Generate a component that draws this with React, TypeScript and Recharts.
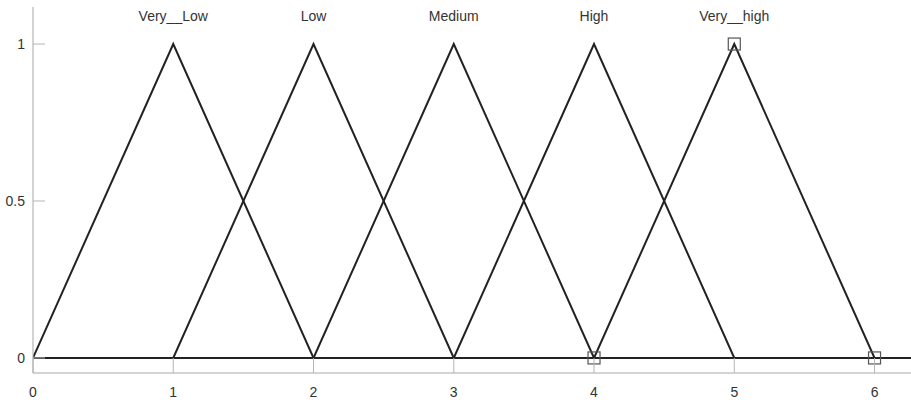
import { LineChart, Line, XAxis, YAxis, Scatter, ReferenceDot } from 'recharts';

// universe of discourse [0, xMax]
const xMax = 6.26;
const yDomain: [number, number] = [-0.048, 1.118];

const xTicks = [0, 1, 2, 3, 4, 5, 6];
const yTicks = [0, 0.5, 1];

// membership functions: name + triangle vertices [a, b, c]
const mfNames = ['Very__Low', 'Low', 'Medium', 'High', 'Very__high'];
const mfParams = [
  [0, 1, 2],
  [1, 2, 3],
  [2, 3, 4],
  [3, 4, 5],
  [4, 5, 6],
];

// selected MF (Very__high) vertex handles
const handles = [
  { x: 4, y: 0 },
  { x: 5, y: 1 },
  { x: 6, y: 0 },
];

const labelY = 1.09;

const buildSeries = ([a, b, c]: number[]) => {
  const pts = [] as { x: number; y: number }[];
  if (a > 0) pts.push({ x: 0, y: 0 });
  pts.push({ x: a, y: 0 }, { x: b, y: 1 }, { x: c, y: 0 });
  if (c < xMax) pts.push({ x: xMax, y: 0 });
  return pts;
};

const series = mfParams.map(buildSeries);

const FONT = 'Liberation Sans, Arial, sans-serif';

const YTick = ({ x, y, payload }: any) => (
  <g>
    <line x1={x} y1={y} x2={x + 12} y2={y} stroke="#b5b5b5" strokeWidth={1} />
    <text x={x - 8} y={y} textAnchor="end" dominantBaseline="central" fontSize={14} fill="#333" fontFamily={FONT}>
      {payload.value}
    </text>
  </g>
);

const XTick = ({ x, y, payload }: any) => (
  <g>
    <line x1={x} y1={y} x2={x} y2={y - 15} stroke="#b5b5b5" strokeWidth={1} />
    <text x={x} y={y + 19} textAnchor="middle" dominantBaseline="central" fontSize={14} fill="#333" fontFamily={FONT}>
      {payload.value}
    </text>
  </g>
);

const Handle = ({ cx, cy }: any) => (
  <rect x={cx - 6} y={cy - 6} width={12} height={12} fill="none" stroke="#555" strokeWidth={1.2} />
);

export default function App() {
  return (
    <div style={{ position: 'absolute', left: 0, top: 0, background: '#fff' }}>
      <LineChart width={911} height={400} margin={{ top: 7, right: 0, bottom: 0, left: 0 }}>
        <XAxis
          type="number"
          dataKey="x"
          domain={[0, xMax]}
          ticks={xTicks}
          allowDataOverflow
          height={27}
          tickSize={0}
          tickMargin={0}
          stroke="#a8a8a8"
          tick={<XTick />}
        />
        <YAxis
          type="number"
          dataKey="y"
          domain={yDomain}
          ticks={yTicks}
          allowDataOverflow
          width={33}
          tickSize={0}
          tickMargin={0}
          stroke="#a8a8a8"
          tick={<YTick />}
        />
        {series.map((d, i) => (
          <Line
            key={mfNames[i]}
            data={d}
            dataKey="y"
            type="linear"
            stroke="#222"
            strokeWidth={2}
            dot={false}
            activeDot={false}
            isAnimationActive={false}
          />
        ))}
        <Scatter data={handles} dataKey="y" shape={<Handle />} isAnimationActive={false} />
        {mfNames.map((name, i) => (
          <ReferenceDot
            key={name}
            x={mfParams[i][1]}
            y={labelY}
            r={0}
            fill="none"
            stroke="none"
            label={{ value: name, position: 'center', fontSize: 14, fill: '#333', fontFamily: FONT }}
          />
        ))}
      </LineChart>
    </div>
  );
}
